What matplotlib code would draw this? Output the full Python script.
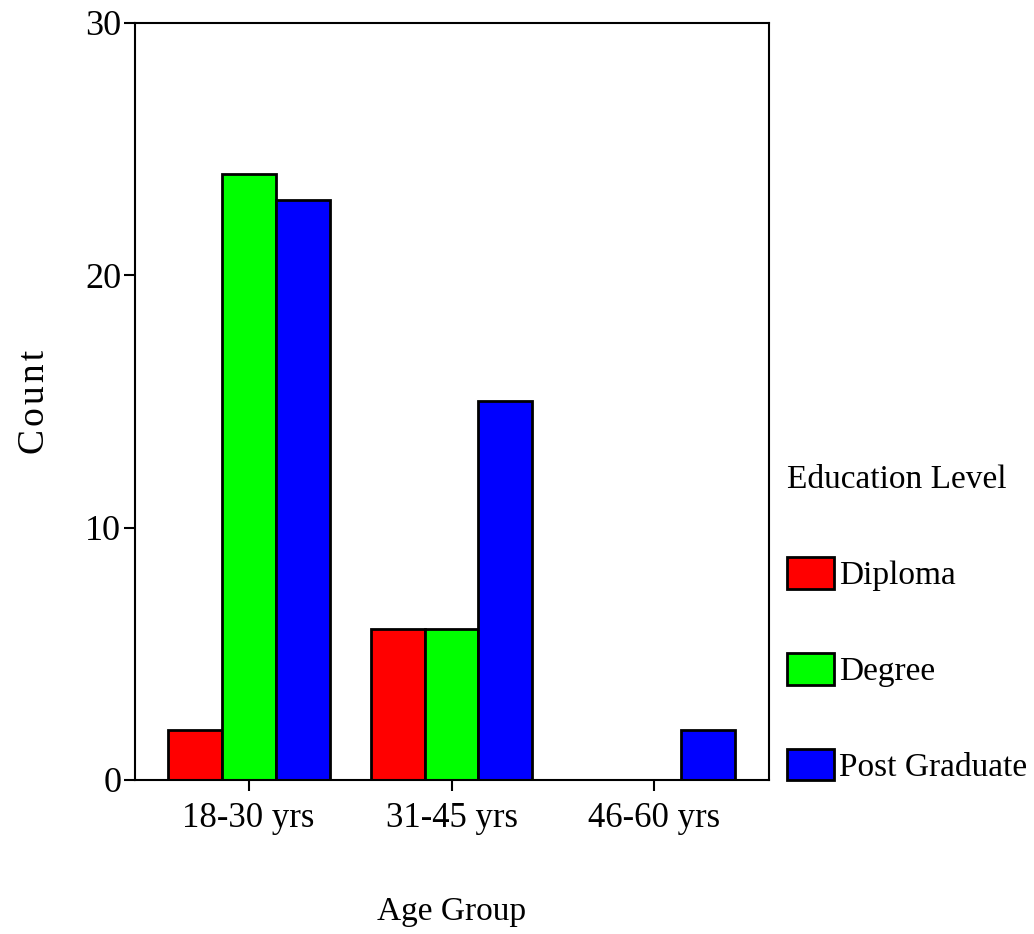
import matplotlib.pyplot as plt
import numpy as np

# data
age_groups = ["18-30 yrs", "31-45 yrs", "46-60 yrs"]
levels = ["Diploma", "Degree", "Post Graduate"]
diploma = [2, 6, 0]
degree = [24, 6, 0]
post_grad = [23, 15, 2]

colors = ["#ff0000", "#00ff00", "#0000ff"]

plt.rcParams['font.family'] = ['Liberation Serif', 'DejaVu Serif']

fig = plt.figure(figsize=(10.34, 9.34), dpi=100)
ax = fig.add_axes([0.1306, 0.1649, 0.6131, 0.8105])

x = np.arange(len(age_groups))
w = 0.266
for i, (vals, lab) in enumerate(zip([diploma, degree, post_grad], levels)):
    ax.bar(x + (i - 1) * w, vals, w, color=colors[i], edgecolor='black',
           linewidth=2, label=lab, zorder=2)

ax.set_xlim(-0.56, 2.565)
ax.set_ylim(0, 30)
ax.set_yticks([0, 10, 20, 30])
ax.set_xticks(x)
ax.set_xticklabels(age_groups, fontsize=25)
ax.tick_params(labelsize=26, width=1.5, length=8, direction='out')
ax.tick_params(axis='x', labelsize=25, pad=8)
ax.tick_params(axis='y', pad=2)
for s in ax.spines.values():
    s.set_linewidth(1.5)

ax.set_xlabel("Age Group", fontsize=24, labelpad=44)
ax.set_ylabel("C\u200ao\u200au\u200an\u200at", fontsize=27, labelpad=24)

leg = ax.legend(loc='upper left', bbox_to_anchor=(0.745, 0.52),
                bbox_transform=fig.transFigure, frameon=False,
                title="Education Level", title_fontsize=24, fontsize=24,
                labelspacing=1.85, handlelength=1.4, handleheight=1.08,
                handletextpad=0.15, alignment='left', borderpad=0)

fig.savefig("out.png", dpi=100)
